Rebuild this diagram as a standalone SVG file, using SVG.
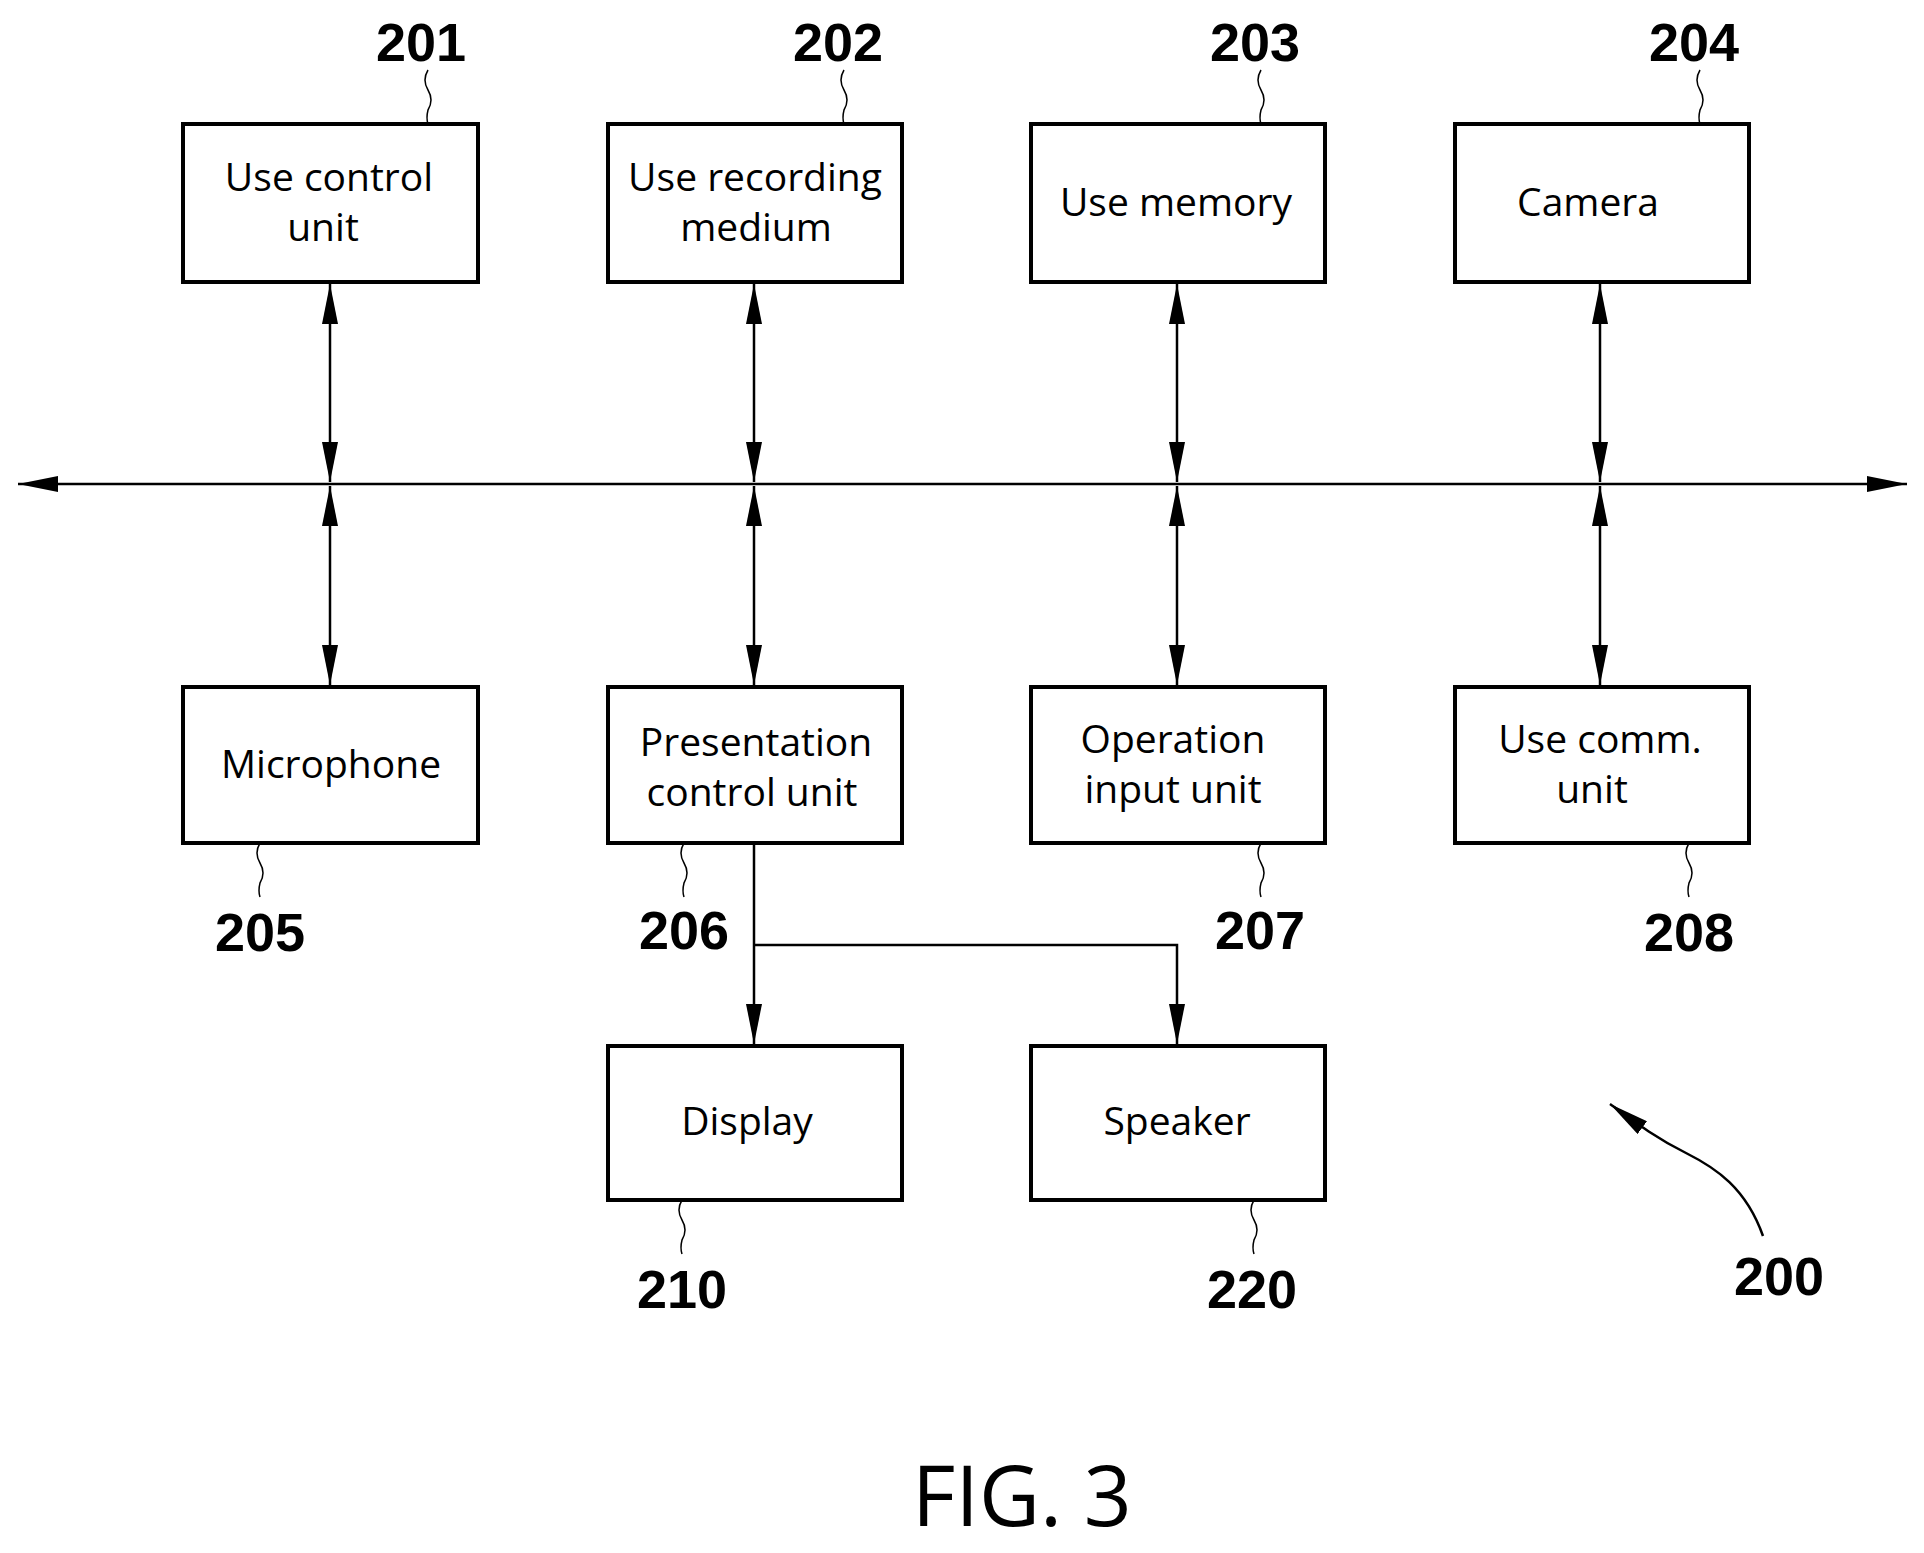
<svg xmlns="http://www.w3.org/2000/svg" width="1924" height="1553" viewBox="0 0 1924 1553">
<style>
.box{fill:#fff;stroke:#000;stroke-width:4}
.t{font-family:"Open Sans","Noto Sans",sans-serif;font-size:39px;text-anchor:middle;fill:#000}
.n{font-family:"Liberation Sans Narrow","Liberation Sans",sans-serif;font-weight:bold;font-size:54px;text-anchor:middle;fill:#000}
.c{fill:none;stroke:#000;stroke-width:2.5}
.w{fill:none;stroke:#000;stroke-width:1.5}
</style>
<defs>
<marker id="a" viewBox="0 0 40 16" refX="40" refY="8" markerWidth="40" markerHeight="16" markerUnits="userSpaceOnUse" orient="auto-start-reverse"><path d="M0,0 L40,8 L0,16 Z" fill="#000"/></marker>
</defs>
<rect width="1924" height="1553" fill="#fff"/>
<g transform="translate(-4,-2)">
<g id="connectors">
<line class="c" x1="22" y1="486" x2="1911" y2="486" marker-start="url(#a)" marker-end="url(#a)"/>
<line class="c" x1="334" y1="286" x2="334" y2="484" marker-start="url(#a)" marker-end="url(#a)"/>
<line class="c" x1="334" y1="488" x2="334" y2="687" marker-start="url(#a)" marker-end="url(#a)"/>
<line class="c" x1="758" y1="286" x2="758" y2="484" marker-start="url(#a)" marker-end="url(#a)"/>
<line class="c" x1="758" y1="488" x2="758" y2="687" marker-start="url(#a)" marker-end="url(#a)"/>
<line class="c" x1="1181" y1="286" x2="1181" y2="484" marker-start="url(#a)" marker-end="url(#a)"/>
<line class="c" x1="1181" y1="488" x2="1181" y2="687" marker-start="url(#a)" marker-end="url(#a)"/>
<line class="c" x1="1604" y1="286" x2="1604" y2="484" marker-start="url(#a)" marker-end="url(#a)"/>
<line class="c" x1="1604" y1="488" x2="1604" y2="687" marker-start="url(#a)" marker-end="url(#a)"/>
<line class="c" x1="758" y1="845" x2="758" y2="1046" marker-end="url(#a)"/>
<polyline class="c" points="758,947 1181,947 1181,1046" marker-end="url(#a)"/>
<path class="c" d="M1767,1238 C1750,1190 1720,1170 1690,1155 C1660,1140 1640,1125 1614,1106" marker-end="url(#a)"/>
</g>
<g id="leaders">
<path class="w" d="M432,72 q-6,10 0,20 q6,10 0,20 q-2,8 0,14"/>
<path class="w" d="M848,72 q-6,10 0,20 q6,10 0,20 q-2,8 0,14"/>
<path class="w" d="M1265,72 q-6,10 0,20 q6,10 0,20 q-2,8 0,14"/>
<path class="w" d="M1704,72 q-6,10 0,20 q6,10 0,20 q-2,8 0,14"/>
<path class="w" d="M264,845 q-6,10 0,20 q6,10 0,20 q-2,8 0,14"/>
<path class="w" d="M688,845 q-6,10 0,20 q6,10 0,20 q-2,8 0,14"/>
<path class="w" d="M1265,845 q-6,10 0,20 q6,10 0,20 q-2,8 0,14"/>
<path class="w" d="M1693,845 q-6,10 0,20 q6,10 0,20 q-2,8 0,14"/>
<path class="w" d="M686,1202 q-6,10 0,20 q6,10 0,20 q-2,8 0,14"/>
<path class="w" d="M1258,1202 q-6,10 0,20 q6,10 0,20 q-2,8 0,14"/>
</g>
<g id="n201"><rect class="box" x="187" y="126" width="295" height="158"/><text class="t" x="333" y="193">Use control</text><text class="t" x="327" y="243">unit</text><text class="n" x="425" y="63">201</text></g>
<g id="n202"><rect class="box" x="612" y="126" width="294" height="158"/><text class="t" x="759" y="193">Use recording</text><text class="t" x="760" y="243">medium</text><text class="n" x="842" y="63">202</text></g>
<g id="n203"><rect class="box" x="1035" y="126" width="294" height="158"/><text class="t" x="1180" y="218">Use memory</text><text class="n" x="1259" y="63">203</text></g>
<g id="n204"><rect class="box" x="1459" y="126" width="294" height="158"/><text class="t" x="1592" y="218">Camera</text><text class="n" x="1698" y="63">204</text></g>
<g id="n205"><rect class="box" x="187" y="689" width="295" height="156"/><text class="t" x="335" y="780">Microphone</text><text class="n" x="264" y="953">205</text></g>
<g id="n206"><rect class="box" x="612" y="689" width="294" height="156"/><text class="t" x="760" y="758">Presentation</text><text class="t" x="756" y="808">control unit</text><text class="n" x="688" y="951">206</text></g>
<g id="n207"><rect class="box" x="1035" y="689" width="294" height="156"/><text class="t" x="1177" y="755">Operation</text><text class="t" x="1177" y="805">input unit</text><text class="n" x="1264" y="951">207</text></g>
<g id="n208"><rect class="box" x="1459" y="689" width="294" height="156"/><text class="t" x="1604" y="755">Use comm.</text><text class="t" x="1596" y="805">unit</text><text class="n" x="1693" y="953">208</text></g>
<g id="n210"><rect class="box" x="612" y="1048" width="294" height="154"/><text class="t" x="751" y="1137">Display</text><text class="n" x="686" y="1310">210</text></g>
<g id="n220"><rect class="box" x="1035" y="1048" width="294" height="154"/><text class="t" x="1181" y="1137">Speaker</text><text class="n" x="1256" y="1310">220</text></g>
<g id="n200"><text class="n" x="1783" y="1297">200</text></g>
<text x="1026" y="1528" font-family="Open Sans,Noto Sans,sans-serif" font-size="84" text-anchor="middle">FIG. 3</text>
</g>
</svg>
